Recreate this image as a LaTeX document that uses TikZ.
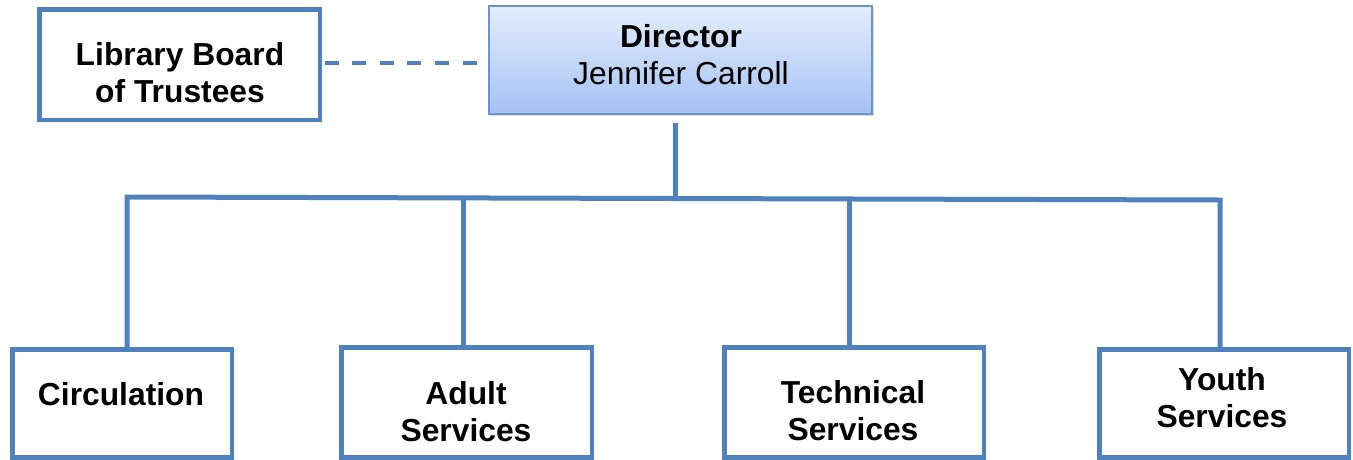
\documentclass[tikz,border=0pt]{standalone}
\usepackage{fontspec}
\setmainfont{Liberation Sans}
\usetikzlibrary{shadows}
\definecolor{linkblue}{RGB}{79,129,189}
\definecolor{dirtop}{RGB}{228,237,252}
\definecolor{dirbottom}{RGB}{164,194,244}
\definecolor{dirborder}{RGB}{108,147,208}
\begin{document}
\begin{tikzpicture}[x=1pt,y=-1pt,
  wire/.style={draw=linkblue, line width=5pt},
  dashwire/.style={draw=linkblue, line width=4.5pt, dash pattern=on 14pt off 13.6pt},
  unitbox/.style={draw=linkblue, line width=4.5pt, fill=white, inner sep=0pt},
  headbox/.style={draw=dirborder, line width=1.8pt, top color=dirtop, bottom color=dirbottom,
    inner sep=0pt, drop shadow={opacity=0.25, shadow xshift=1.5pt, shadow yshift=-2pt}},
  caption/.style={inner sep=0pt, align=center, font=\fontsize{31.8}{37}\selectfont\bfseries},
]
\useasboundingbox (0,0) rectangle (1353,459);

% boxes
\node[unitbox, minimum width=280.5pt, minimum height=110.5pt] (board) at (179.5,64.5) {};
\node[headbox, minimum width=383.5pt, minimum height=108.5pt] (dir) at (680.5,60) {};
\node[unitbox, minimum width=219.5pt, minimum height=108pt] (circ) at (122,403.25) {};
\node[unitbox, minimum width=250.5pt, minimum height=110pt] (adult) at (466.5,402.25) {};
\node[unitbox, minimum width=259.5pt, minimum height=110pt] (tech) at (854,402.25) {};
\node[unitbox, minimum width=249.5pt, minimum height=108pt] (youth) at (1224,403.25) {};

% texts
\node[caption] (boardtxt) at (180,73) {Library Board\\of Trustees};
\node[caption] (dirtxt) at (681,54.5) {Director\\\mdseries Jennifer Carroll};
\node[caption] (circtxt) at (121,394.5) {Circulation};
\node[caption] (adulttxt) at (466,411.5) {Adult\\Services};
\node[caption] (techtxt) at (853,411) {Technical\\Services};
\node[caption] (youthtxt) at (1222,397.5) {Youth\\Services};

% dotted link to the board
\coordinate (dashend) at (477,63);
\draw[dashwire] ([xshift=2.5pt,yshift=1.5pt]board.east) -- (dashend);

% reporting lines
\coordinate (busL) at (127,197);
\coordinate (busM) at (675,198.5);
\coordinate (busR) at (1220,200);
\draw[wire] ([shift={(-5.5,7.5)}]dir.south) -- (busM);
\draw[wire, line join=miter] ([xshift=5pt]circ.north) -- (busL) -- (busR) -- ([xshift=-4pt]youth.north);
\draw[wire] (adult.north) ++(-3.5,0) coordinate (adulttop) -- (adulttop |- busM);
\draw[wire] (tech.north) ++(-5,0) coordinate (techtop) -- (techtop |- busM);
\end{tikzpicture}
\end{document}
